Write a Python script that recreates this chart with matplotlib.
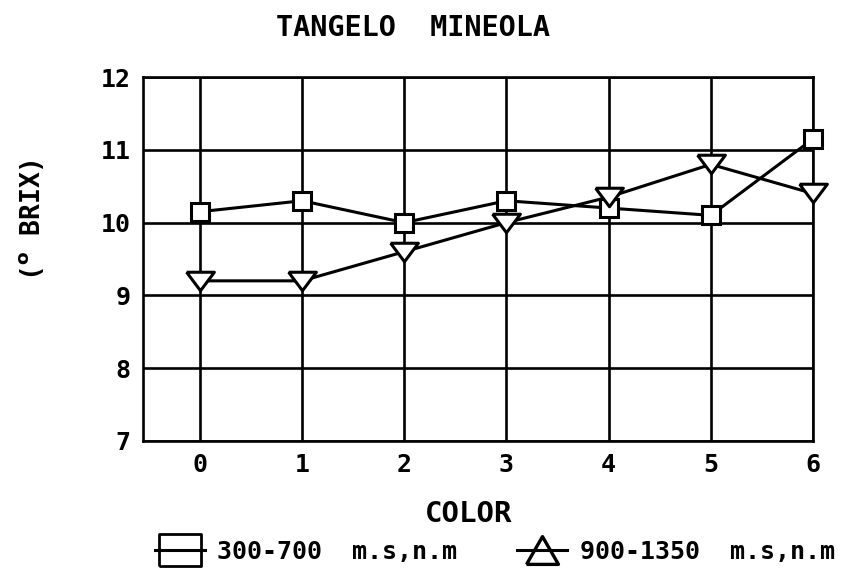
#!/usr/bin/env python3
import matplotlib
matplotlib.use('Agg')
import matplotlib.pyplot as plt
from matplotlib.lines import Line2D

plt.rcParams['font.family'] = ['DejaVu Sans Mono']
plt.rcParams['font.weight'] = 'bold'

color_idx = [0, 1, 2, 3, 4, 5, 6]
brix_low = [10.15, 10.3, 10.0, 10.3, 10.2, 10.1, 11.15]     # 300-700 m.s,n.m
brix_high = [9.2, 9.2, 9.6, 10.0, 10.35, 10.8, 10.4]       # 900-1350 m.s,n.m
yticks = [7, 8, 9, 10, 11, 12]

tri_down = [(-1.5, 1), (1.5, 1), (0, -1), (-1.5, 1)]
tri_up = [(-1.15, -1), (1.15, -1), (0, 1), (-1.15, -1)]
box = [(-1.3, -1), (1.3, -1), (1.3, 1), (-1.3, 1), (-1.3, -1)]

fig = plt.figure(figsize=(8.41, 5.71), dpi=100)
ax = fig.add_axes([0.170, 0.2277, 0.7967, 0.6374])

ax.plot(color_idx, brix_low, color='black', lw=2.2, marker='s', ms=13,
        mfc='white', mec='black', mew=2.2, zorder=3, clip_on=False)
ax.plot(color_idx, brix_high, color='black', lw=2.2, marker=tri_down, ms=20,
        mfc='white', mec='black', mew=2.2, zorder=4, clip_on=False)

ax.set_xlim(-0.557, 6)
ax.set_ylim(7, 12)
ax.set_xticks(color_idx)
ax.set_yticks(yticks)
ax.grid(True, color='black', lw=1.9, zorder=1)
ax.set_axisbelow(True)
for s in ax.spines.values():
    s.set_linewidth(1.9)
ax.tick_params(length=0, labelsize=18)
ax.tick_params(axis='y', pad=9)
ax.tick_params(axis='x', pad=9)

fig.text(0.491, 0.951, 'TANGELO  MINEOLA', ha='center', va='center',
         fontsize=20.5, fontweight='bold')
fig.text(0.038, 0.615, '($^{\\mathbf{o}}$ BRIX)', rotation=90, ha='center',
         va='center', fontsize=19, fontweight='bold')
fig.text(0.557, 0.1, 'COLOR', ha='center', va='center',
         fontsize=21, fontweight='bold')

# legend markers are open so the line shows through them
handles = [
    Line2D([], [], color='black', lw=2.2, marker=box, ms=30, mfc='none',
           mec='black', mew=2),
    Line2D([], [], color='black', lw=2.2, marker=tri_up, ms=23, mfc='none',
           mec='black', mew=2.4),
]
fig.legend(handles, ['300-700  m.s,n.m', '900-1350  m.s,n.m'], ncol=2,
           loc='center', bbox_to_anchor=(0.588, 0.034), frameon=False,
           fontsize=18, handlelength=2.0, handletextpad=0.5,
           columnspacing=2.4, borderpad=0.1)

fig.savefig('out.png', dpi=100)
